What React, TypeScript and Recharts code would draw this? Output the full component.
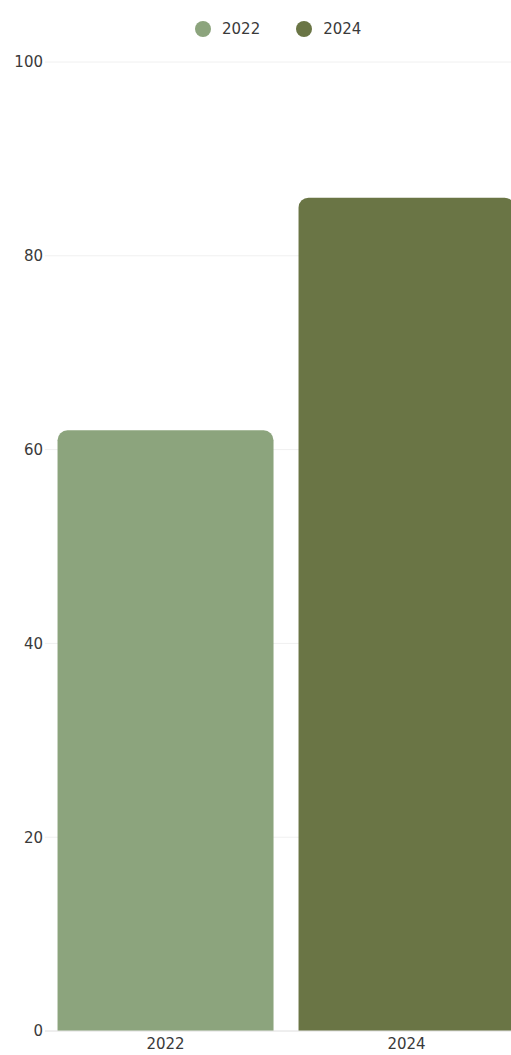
import { Bar, BarChart, CartesianGrid, Legend, XAxis, YAxis } from "recharts";

const years = ["2022", "2024"];
const values2022 = [62, null];
const values2024 = [null, 86];
const yTicks = [0, 20, 40, 60, 80, 100];

const colors: Record<string, string> = {
    "2022": "#8ca47d",
    "2024": "#6a7545",
};

const data = years.map((year, i) => ({
    year,
    "2022": values2022[i],
    "2024": values2024[i],
}));

const font = "'DejaVu Sans', sans-serif";

function LegendContent({ payload }: any) {
    return (
        <div style={{ display: "flex", alignItems: "center", height: 20, fontFamily: font, fontSize: 15, color: "#3a3a3a" }}>
            {(payload || []).map((p: any) => (
                <div key={p.value} style={{ display: "flex", alignItems: "center", marginRight: 36 }}>
                    <span style={{ width: 16, height: 16, borderRadius: "50%", background: p.color, display: "inline-block", marginRight: 11 }} />
                    <span>{p.value}</span>
                </div>
            ))}
        </div>
    );
}

export default function App() {
    return (
        <div style={{ position: "absolute", left: 0, top: 0, width: 511, height: 1055, overflow: "hidden", background: "#fff" }}>
            <BarChart
                width={527}
                height={1055}
                data={data}
                margin={{ top: 42, right: 0, left: 0, bottom: 0 }}
                barCategoryGap="5.2%"
            >
                <CartesianGrid vertical={false} stroke="#f0f0f0" />
                <XAxis
                    dataKey="year"
                    height={24}
                    tickLine={false}
                    tickSize={0}
                    tickMargin={7}
                    axisLine={{ stroke: "#e6e6e6" }}
                    tick={{ fill: "#3a3a3a", fontSize: 15, fontFamily: font }}
                />
                <YAxis
                    width={45}
                    domain={[0, 100]}
                    ticks={yTicks}
                    axisLine={false}
                    tickLine={false}
                    tickSize={0}
                    tickMargin={2}
                    tick={{ fill: "#3a3a3a", fontSize: 15, fontFamily: font }}
                />
                <Legend
                    verticalAlign="top"
                    content={<LegendContent />}
                    wrapperStyle={{ top: 19, left: 195, width: "auto" }}
                />
                {years.map((y) => (
                    <Bar
                        key={y}
                        dataKey={y}
                        name={y}
                        stackId="a"
                        fill={colors[y]}
                        radius={[10, 10, 0, 0]}
                        isAnimationActive={false}
                    />
                ))}
            </BarChart>
        </div>
    );
}
